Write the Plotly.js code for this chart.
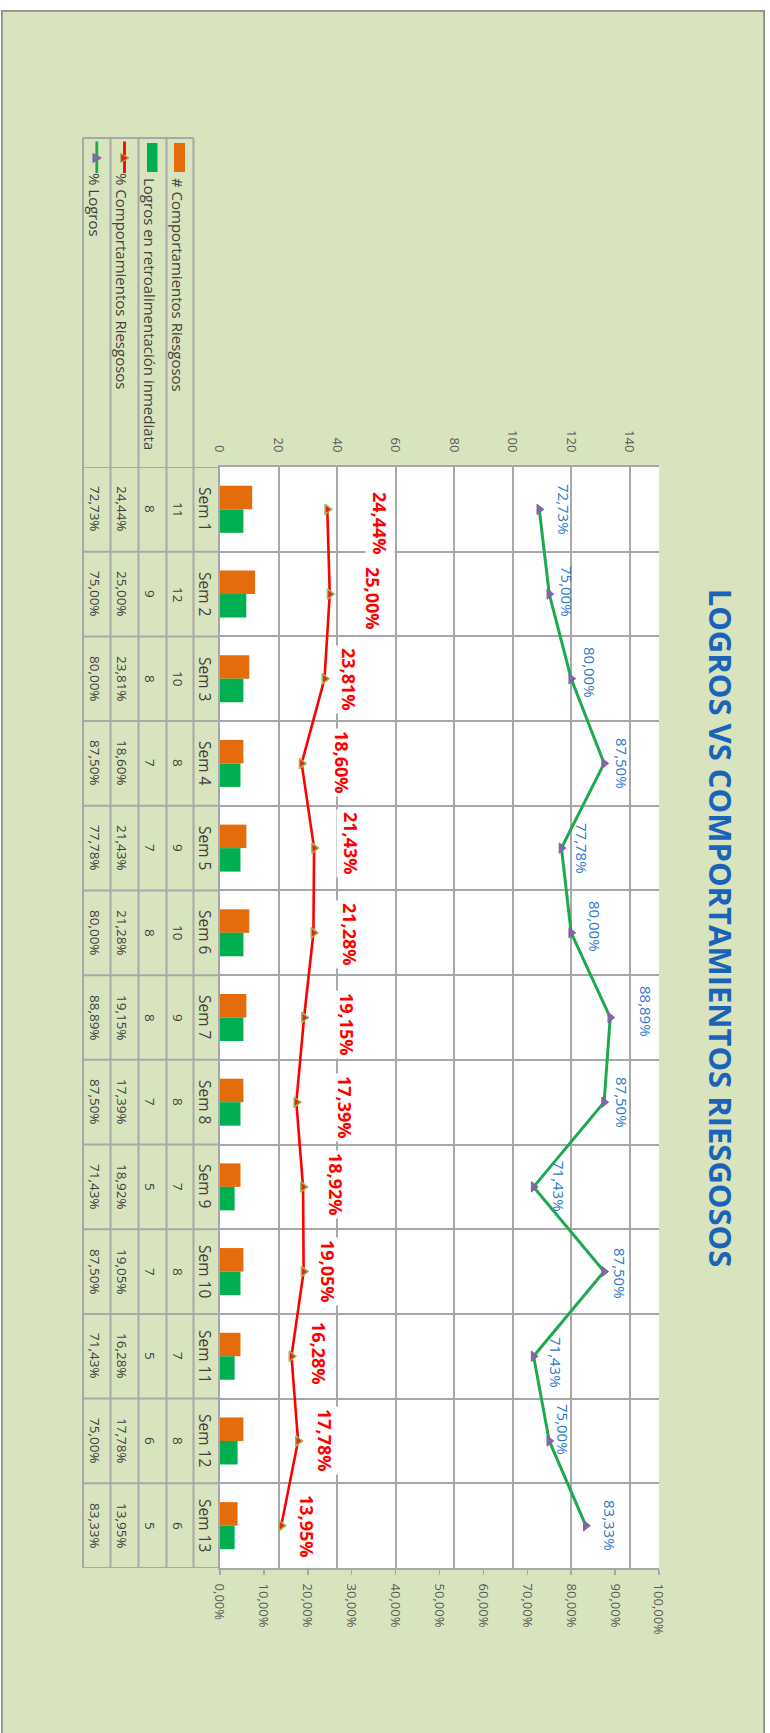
<!DOCTYPE html>
<html>
<head>
<meta charset="utf-8">
<script src="https://cdn.plot.ly/plotly-3.0.1.min.js"></script>
<style>
html, body { margin:0; padding:0; background:#ffffff; width:770px; height:1733px; overflow:hidden; }
#chart { position:absolute; left:0; top:0; width:1723px; height:764px; transform-origin:0 0; transform:translate(765px,10px) rotate(90deg); }
</style>
</head>
<body>
<div id="chart"></div>
<script>
// ---------------- DATA ----------------
const categories = ['Sem 1','Sem 2','Sem 3','Sem 4','Sem 5','Sem 6','Sem 7','Sem 8','Sem 9','Sem 10','Sem 11','Sem 12','Sem 13'];
const comportamientos = [11, 12, 10, 8, 9, 10, 9, 8, 7, 8, 7, 8, 6];
const logrosRetro = [8, 9, 8, 7, 7, 8, 8, 7, 5, 7, 5, 6, 5];
const pctComportamientos = [24.44, 25.00, 23.81, 18.60, 21.43, 21.28, 19.15, 17.39, 18.92, 19.05, 16.28, 17.78, 13.95];
const pctLogros = [72.73, 75.00, 80.00, 87.50, 77.78, 80.00, 88.89, 87.50, 71.43, 87.50, 71.43, 75.00, 83.33];
const seriesNames = ['# Comportamientos Riesgosos', 'Logros en retroalimentación inmediata', '% Comportamientos Riesgosos', '% Logros'];
const titleText = 'LOGROS VS COMPORTAMIENTOS RIESGOSOS';

// ---------------- STYLE / LABEL OFFSETS (px) ----------------
const redLabelUp    = [53, 43, 24, 40, 37, 37, 43, 49, 33, 24, 28, 27, 26];
const redLabelRight = [14, 4, 1, -1, -5, 2, 7, 5, -2, 0, -3, 0, 1];
const blueLabelUp    = [25, 18, 19, 18, 21, 24, 36, 18, 25, 16, 22, 14, 24];
const blueLabelRight = [0, -3, -6, 0, 0, -6, -6, 0, 0, 2, 6, -11, 0];

const C_ORANGE = '#E46C0A', C_GREEN = '#00B050', C_RED = '#FF0000', C_LGREEN = '#1DAA4E';
const C_GRID = '#A8A8A8', C_TEXT = '#404040', C_AXIS = '#595959';
const C_BG = '#D8E4BD', C_TITLE = '#1B63B8', C_BLUE = '#2B78CC';
const FONT = 'Open Sans, Noto Sans, sans-serif';
const GW = 2;

// ---------------- GEOMETRY ----------------
const W = 1723, H = 764;
const M = { l: 457, r: 165, t: 106, b: 219 };
const PW = W - M.l - M.r, PH = H - M.t - M.b;
const plotBottom = H - M.b;
const px2x = u => (u - M.l) / PW;
const px2y = v => (plotBottom - v) / PH;

const fmtPct = v => v.toFixed(2).replace('.', ',') + '%';

// ---------------- TRACES ----------------
const traces = [
  { type: 'bar', name: seriesNames[0], x: categories, y: comportamientos, marker: { color: C_ORANGE }, yaxis: 'y', hoverinfo: 'skip' },
  { type: 'bar', name: seriesNames[1], x: categories, y: logrosRetro, marker: { color: C_GREEN }, yaxis: 'y', hoverinfo: 'skip' },
  { type: 'scatter', mode: 'lines+markers', name: seriesNames[2], x: categories, y: pctComportamientos.map(v => v / 100), yaxis: 'y2',
    line: { color: C_RED, width: 2.6 }, marker: { symbol: 'triangle-up', size: 9, color: '#E8221A', line: { color: '#9BBB59', width: 1.5 } }, cliponaxis: false, hoverinfo: 'skip' },
  { type: 'scatter', mode: 'lines+markers', name: seriesNames[3], x: categories, y: pctLogros.map(v => v / 100), yaxis: 'y2',
    line: { color: C_LGREEN, width: 3 }, marker: { symbol: 'triangle-up', size: 9, color: '#7F6AA0', line: { color: '#8064A2', width: 1 } }, cliponaxis: false, hoverinfo: 'skip' }
];

// ---------------- SHAPES ----------------
const shapes = [];
// outer border of chart area
shapes.push({ type: 'rect', xref: 'paper', yref: 'paper', x0: px2x(0.8), x1: px2x(W + 20), y0: px2y(H - 0.8), y1: px2y(0.8),
  line: { color: '#8F8F8F', width: 2 }, fillcolor: 'rgba(0,0,0,0)', layer: 'above' });
// table row lines
const rowLines = [571.5, 598.5, 626.5, 654.5, 682];
rowLines.forEach(v => shapes.push({ type: 'line', xref: 'paper', yref: 'paper', x0: px2x(128), x1: 1, y0: px2y(v), y1: px2y(v), line: { color: C_GRID, width: GW } }));
// table column lines at category boundaries
for (let i = 0; i <= categories.length; i++) {
  shapes.push({ type: 'line', xref: 'x', yref: 'paper', x0: i - 0.5, x1: i - 0.5, y0: 0, y1: px2y(682), line: { color: C_GRID, width: GW } });
}
// legend column left border
shapes.push({ type: 'line', xref: 'paper', yref: 'paper', x0: px2x(128), x1: px2x(128), y0: px2y(571.5), y1: px2y(682), line: { color: C_GRID, width: GW } });
// legend keys
shapes.push({ type: 'rect', xref: 'paper', yref: 'paper', x0: px2x(133), x1: px2x(162), y0: px2y(591), y1: px2y(580), fillcolor: C_ORANGE, line: { width: 0 } });
shapes.push({ type: 'rect', xref: 'paper', yref: 'paper', x0: px2x(133), x1: px2x(162), y0: px2y(618), y1: px2y(607.5), fillcolor: C_GREEN, line: { width: 0 } });
function lineKey(v, lc, mc, mlc) {
  shapes.push({ type: 'line', xref: 'paper', yref: 'paper', x0: px2x(131.5), x1: px2x(163), y0: px2y(v), y1: px2y(v), line: { color: lc, width: 2.8 } });
  const cu = 148, s = 4.5;
  const path = 'M' + px2x(cu - s) + ',' + px2y(v + s * 0.85) + ' L' + px2x(cu + s) + ',' + px2y(v + s * 0.85) + ' L' + px2x(cu) + ',' + px2y(v - s) + ' Z';
  shapes.push({ type: 'path', xref: 'paper', yref: 'paper', path: path, fillcolor: mc, line: { color: mlc, width: 1 } });
}
lineKey(640.5, C_RED, '#E8221A', '#9BBB59');
lineKey(668.2, C_LGREEN, '#7F6AA0', '#8064A2');

// ---------------- ANNOTATIONS ----------------
const ann = [];
const nfont = { family: FONT, size: 13.5, color: C_TEXT };
const sfont = { family: FONT, size: 15.5, color: C_TEXT };
const lfont = { family: FONT, size: 15, color: C_TEXT };
const rowCenters = [558.3, 585, 612.5, 640.5, 668.2].map(v => v + 2);
categories.forEach((c, i) => {
  ann.push({ xref: 'x', yref: 'paper', x: c, y: px2y(rowCenters[0]), text: c, showarrow: false, font: sfont, xanchor: 'center', yanchor: 'middle' });
  ann.push({ xref: 'x', yref: 'paper', x: c, y: px2y(rowCenters[1]), text: String(comportamientos[i]), showarrow: false, font: nfont, xanchor: 'center', yanchor: 'middle' });
  ann.push({ xref: 'x', yref: 'paper', x: c, y: px2y(rowCenters[2]), text: String(logrosRetro[i]), showarrow: false, font: nfont, xanchor: 'center', yanchor: 'middle' });
  ann.push({ xref: 'x', yref: 'paper', x: c, y: px2y(rowCenters[3]), text: fmtPct(pctComportamientos[i]), showarrow: false, font: nfont, xanchor: 'center', yanchor: 'middle' });
  ann.push({ xref: 'x', yref: 'paper', x: c, y: px2y(rowCenters[4]), text: fmtPct(pctLogros[i]), showarrow: false, font: nfont, xanchor: 'center', yanchor: 'middle' });
  // data labels
  ann.push({ xref: 'x', yref: 'y2', x: c, y: pctComportamientos[i] / 100, text: fmtPct(pctComportamientos[i]), showarrow: false,
    xshift: redLabelRight[i], yshift: redLabelUp[i], xanchor: 'center', yanchor: 'middle', bgcolor: '#ffffff', borderpad: 2,
    font: { family: FONT, size: 18, color: C_RED, weight: 700 } });
  ann.push({ xref: 'x', yref: 'y2', x: c, y: pctLogros[i] / 100, text: fmtPct(pctLogros[i]), showarrow: false,
    xshift: blueLabelRight[i], yshift: blueLabelUp[i], xanchor: 'center', yanchor: 'middle',
    font: { family: FONT, size: 15, color: C_BLUE } });
});
// legend texts in table
const legendRows = [rowCenters[1], rowCenters[2], rowCenters[3], rowCenters[4]];
const legendStart = [166, 166, 161, 161];
seriesNames.forEach((n, k) => {
  ann.push({ xref: 'paper', yref: 'paper', x: px2x(legendStart[k]), y: px2y(legendRows[k]), text: n, showarrow: false, font: lfont, xanchor: 'left', yanchor: 'middle' });
});

// ---------------- LAYOUT ----------------
const layout = {
  width: W, height: H,
  margin: M,
  paper_bgcolor: C_BG,
  plot_bgcolor: '#ffffff',
  separators: ',.',
  showlegend: false,
  hovermode: false,
  barmode: 'group', bargap: 0.445, bargroupgap: 0,
  font: { family: FONT, size: 13, color: C_AXIS },
  title: { text: titleText, x: 918 / W, xref: 'container', y: 1 - 45.5 / H, yref: 'container', xanchor: 'center', yanchor: 'middle',
    font: { family: FONT, size: 31, color: C_TITLE, weight: 700 } },
  xaxis: { type: 'category', range: [-0.5, categories.length - 0.5], autorange: false, automargin: false,
    tickson: 'boundaries', showgrid: true, gridcolor: C_GRID, gridwidth: GW, showticklabels: false, ticks: '',
    showline: true, linecolor: C_GRID, linewidth: GW, zeroline: false, fixedrange: true },
  yaxis: { range: [0, 150], autorange: false, automargin: false, dtick: 20, tick0: 0, showgrid: true, gridcolor: C_GRID, gridwidth: GW, zeroline: false,
    showline: true, linecolor: C_GRID, linewidth: GW, ticks: '', ticklabelstandoff: 10,
    tickfont: { family: FONT, size: 13, color: C_AXIS }, fixedrange: true },
  yaxis2: { overlaying: 'y', side: 'right', range: [0, 1], autorange: false, automargin: false, dtick: 0.1, tick0: 0, tickformat: '.2%', showgrid: false, zeroline: false,
    showline: true, linecolor: C_GRID, linewidth: GW, ticks: 'outside', ticklen: 5, tickcolor: C_GRID, tickwidth: 1.5, ticklabelstandoff: 6,
    tickfont: { family: FONT, size: 13, color: C_AXIS }, fixedrange: true },
  shapes: shapes,
  annotations: ann
};

Plotly.newPlot('chart', traces, layout, { staticPlot: true, displayModeBar: false });
</script>
</body>
</html>
